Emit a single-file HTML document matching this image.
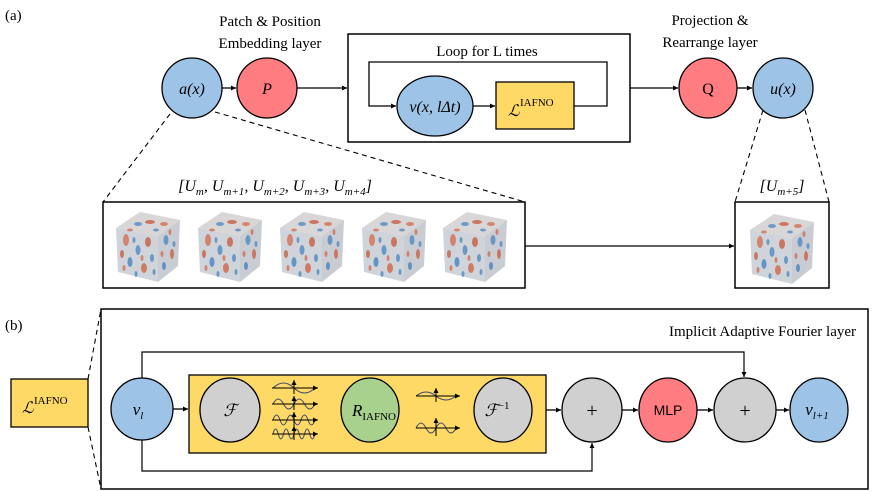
<!DOCTYPE html>
<html><head><meta charset="utf-8"><style>
html,body{margin:0;padding:0;background:#fff;}
svg{display:block;font-family:"Liberation Serif",serif;}
</style></head><body>
<svg width="872" height="491" viewBox="0 0 872 491" xmlns="http://www.w3.org/2000/svg">
<defs>
<marker id="as" markerWidth="6" markerHeight="6" refX="5" refY="3" orient="auto" markerUnits="userSpaceOnUse">
<path d="M0,0.5 L5,3 L0,5.5 Z" fill="#000"/></marker>
<g id="cube">
<polygon points="0,18 24,2 64,10 42,26" fill="#d9d6d8"/>
<polygon points="0,18 42,26 42,72 2,62" fill="#cfd3da"/>
<polygon points="42,26 64,10 62,56 42,72" fill="#c9ccd2"/>
<g opacity="0.75">
<ellipse cx="10" cy="30" rx="3" ry="6" fill="#d46a4a"/>
<ellipse cx="22" cy="40" rx="2.5" ry="5" fill="#4a86c0"/>
<ellipse cx="32" cy="32" rx="3" ry="5" fill="#c9553a"/>
<ellipse cx="14" cy="52" rx="2.5" ry="5" fill="#3f7fbf"/>
<ellipse cx="28" cy="58" rx="3" ry="5" fill="#d0603e"/>
<ellipse cx="36" cy="48" rx="2" ry="4" fill="#4a86c0"/>
<ellipse cx="6" cy="44" rx="2" ry="4" fill="#c65a3e"/>
<ellipse cx="50" cy="30" rx="2.5" ry="5" fill="#4a86c0"/>
<ellipse cx="56" cy="44" rx="2" ry="5" fill="#cc5a3c"/>
<ellipse cx="48" cy="56" rx="2" ry="4" fill="#3f7fbf"/>
<ellipse cx="34" cy="12" rx="5" ry="2" fill="#c9553a"/>
<ellipse cx="22" cy="14" rx="4" ry="2" fill="#4a86c0"/>
<ellipse cx="48" cy="14" rx="4" ry="2" fill="#d46a4a"/>
<ellipse cx="18" cy="30" rx="1.5" ry="3" fill="#4a86c0"/>
<ellipse cx="26" cy="48" rx="1.5" ry="3" fill="#d46a4a"/>
<ellipse cx="8" cy="58" rx="1.5" ry="3" fill="#d46a4a"/>
<ellipse cx="38" cy="62" rx="1.5" ry="3" fill="#4a86c0"/>
<ellipse cx="20" cy="64" rx="1.5" ry="3" fill="#4a86c0"/>
<ellipse cx="54" cy="22" rx="1.5" ry="3" fill="#d46a4a"/>
<ellipse cx="58" cy="34" rx="1.5" ry="3" fill="#4a86c0"/>
<ellipse cx="46" cy="44" rx="1.5" ry="3" fill="#d46a4a"/>
<ellipse cx="40" cy="20" rx="3" ry="1.5" fill="#4a86c0"/>
<ellipse cx="14" cy="20" rx="3" ry="1.5" fill="#d46a4a"/>
</g>
</g>
</defs>

<!-- (a) -->
<text x="5" y="20" font-size="15">(a)</text>
<text x="270" y="26" font-size="15" text-anchor="middle">Patch &amp; Position</text>
<text x="270" y="48" font-size="15" text-anchor="middle">Embedding layer</text>
<text x="710" y="25" font-size="15" text-anchor="middle">Projection &amp;</text>
<text x="710" y="47" font-size="15" text-anchor="middle">Rearrange layer</text>

<rect x="348" y="34" width="282" height="108" fill="none" stroke="#000" stroke-width="1.5"/>
<text x="487" y="56" font-size="15" text-anchor="middle">Loop for L times</text>
<polyline points="574,106 607,106 607,62 369,62 369,106 396,106" fill="none" stroke="#000" stroke-width="1.3" marker-end="url(#as)"/>
<ellipse cx="435" cy="106" rx="38" ry="30" fill="#9DC3E6" stroke="#000" stroke-width="1.3"/>
<text x="435" y="112" font-size="16" font-style="italic" text-anchor="middle">v(x, lΔt)</text>
<line x1="473" y1="106" x2="495" y2="106" stroke="#000" stroke-width="1.3" marker-end="url(#as)"/>
<rect x="496" y="82" width="78" height="47" fill="#FFD966" stroke="#000" stroke-width="1.3"/>
<text x="508" y="116" font-size="16" font-style="italic">ℒ</text><text x="520" y="106" font-size="11">IAFNO</text>

<ellipse cx="192" cy="88" rx="30" ry="30" fill="#9DC3E6" stroke="#000" stroke-width="1.3"/>
<text x="192" y="94" font-size="16" font-style="italic" text-anchor="middle">a(x)</text>
<line x1="222" y1="88" x2="236" y2="88" stroke="#000" stroke-width="1.3" marker-end="url(#as)"/>
<ellipse cx="267" cy="88" rx="30" ry="30" fill="#FF7C80" stroke="#000" stroke-width="1.3"/>
<text x="267" y="94" font-size="16" font-style="italic" text-anchor="middle">P</text>
<line x1="297" y1="88" x2="347" y2="88" stroke="#000" stroke-width="1.3" marker-end="url(#as)"/>
<line x1="630" y1="88" x2="678" y2="88" stroke="#000" stroke-width="1.3" marker-end="url(#as)"/>
<ellipse cx="708" cy="88" rx="29" ry="30" fill="#FF7C80" stroke="#000" stroke-width="1.3"/>
<text x="708" y="94" font-size="16" text-anchor="middle">Q</text>
<line x1="737" y1="88" x2="752" y2="88" stroke="#000" stroke-width="1.3" marker-end="url(#as)"/>
<ellipse cx="783" cy="88" rx="30" ry="30" fill="#9DC3E6" stroke="#000" stroke-width="1.3"/>
<text x="783" y="94" font-size="16" font-style="italic" text-anchor="middle">u(x)</text>

<g stroke="#000" stroke-width="1.1" stroke-dasharray="5,4" fill="none">
<line x1="170" y1="114" x2="103" y2="202"/>
<line x1="215" y1="112" x2="525" y2="202"/>
<line x1="763" y1="110" x2="735" y2="202"/>
<line x1="805" y1="110" x2="829" y2="202"/>
</g>
<text x="275" y="191" font-size="16" text-anchor="middle" font-style="italic">[U<tspan font-size="11" dy="4">m</tspan><tspan dy="-4">, U</tspan><tspan font-size="11" dy="4">m+1</tspan><tspan dy="-4">, U</tspan><tspan font-size="11" dy="4">m+2</tspan><tspan dy="-4">, U</tspan><tspan font-size="11" dy="4">m+3</tspan><tspan dy="-4">, U</tspan><tspan font-size="11" dy="4">m+4</tspan><tspan dy="-4">]</tspan></text>
<text x="782" y="191" font-size="16" text-anchor="middle" font-style="italic">[U<tspan font-size="11" dy="4">m+5</tspan><tspan dy="-4">]</tspan></text>

<rect x="103" y="202" width="422" height="86" fill="#fff" stroke="#000" stroke-width="1.5"/>
<use href="#cube" x="116" y="210"/>
<use href="#cube" x="198" y="210"/>
<use href="#cube" x="280" y="210"/>
<use href="#cube" x="362" y="210"/>
<use href="#cube" x="443" y="210"/>
<rect x="735" y="202" width="94" height="86" fill="#fff" stroke="#000" stroke-width="1.5"/>
<use href="#cube" x="750" y="212"/>
<line x1="525" y1="246" x2="734" y2="246" stroke="#000" stroke-width="1.3" marker-end="url(#as)"/>

<!-- (b) -->
<text x="5" y="330" font-size="15">(b)</text>
<rect x="101" y="309" width="767" height="180" fill="none" stroke="#000" stroke-width="1.5"/>
<text x="856" y="336" font-size="15" text-anchor="end">Implicit Adaptive Fourier layer</text>
<g stroke="#000" stroke-width="1.1" stroke-dasharray="5,4">
<line x1="88" y1="379" x2="101" y2="309"/>
<line x1="88" y1="427" x2="101" y2="489"/>
</g>
<rect x="11" y="379" width="77" height="48" fill="#FFD966" stroke="#000" stroke-width="1.3"/>
<text x="22" y="413" font-size="16" font-style="italic">ℒ</text><text x="34" y="404" font-size="11">IAFNO</text>

<polyline points="142,378 142,352 744,352 744,377" fill="none" stroke="#000" stroke-width="1.2" marker-end="url(#as)"/>
<polyline points="142,440 142,471 592,471 592,443" fill="none" stroke="#000" stroke-width="1.2" marker-end="url(#as)"/>

<rect x="189" y="375" width="357" height="78" fill="#FFD966" stroke="#000" stroke-width="1.3"/>
<ellipse cx="142" cy="409" rx="31" ry="31" fill="#9DC3E6" stroke="#000" stroke-width="1.3"/>
<text x="138" y="415" font-size="17" font-style="italic" text-anchor="middle">v<tspan font-size="11" dy="4">l</tspan></text>
<line x1="173" y1="409" x2="188" y2="409" stroke="#000" stroke-width="1.3" marker-end="url(#as)"/>

<ellipse cx="230" cy="410" rx="30" ry="32" fill="#D0D0D0" stroke="#000" stroke-width="1.3"/>
<text x="230" y="416" font-size="17" font-style="italic" text-anchor="middle">ℱ</text>
<g fill="none" stroke="#3b4a6b" stroke-width="1">
<path d="M273 388 Q283.5 378 294 388 T315 388"/>
<path d="M273 404 Q278.25 394 283.5 404 T294 404 T304.5 404 T315 404"/>
<path d="M273 420 Q276.5 410 280 420 T287 420 T294 420 T301 420 T308 420 T315 420"/>
<path d="M273 434 Q275.6 424 278.25 434 T283.5 434 T288.75 434 T294 434 T299.25 434 T304.5 434 T309.75 434 T315 434"/>
<path d="M416 396 Q426 388 436 396 T456 396"/>
<path d="M416 428 Q421 418 426 428 T436 428 T446 428 T456 428"/>
</g>
<g stroke="#000" stroke-width="1">
<line x1="272" y1="388" x2="318" y2="388" marker-end="url(#as)"/><line x1="294" y1="394" x2="294" y2="380" marker-end="url(#as)"/>
<line x1="272" y1="404" x2="318" y2="404" marker-end="url(#as)"/><line x1="294" y1="410" x2="294" y2="396" marker-end="url(#as)"/>
<line x1="272" y1="420" x2="318" y2="420" marker-end="url(#as)"/><line x1="294" y1="426" x2="294" y2="412" marker-end="url(#as)"/>
<line x1="272" y1="434" x2="318" y2="434" marker-end="url(#as)"/><line x1="294" y1="440" x2="294" y2="426" marker-end="url(#as)"/>
<line x1="416" y1="396" x2="460" y2="396" marker-end="url(#as)"/><line x1="436" y1="402" x2="436" y2="388" marker-end="url(#as)"/>
<line x1="416" y1="428" x2="460" y2="428" marker-end="url(#as)"/><line x1="436" y1="436" x2="436" y2="418" marker-end="url(#as)"/>
</g>

<ellipse cx="370" cy="410" rx="29" ry="32" fill="#A9D18E" stroke="#000" stroke-width="1.3"/>
<text x="352" y="416" font-size="17" font-style="italic">R<tspan font-size="11" font-style="normal" dy="4">IAFNO</tspan></text>
<ellipse cx="503" cy="410" rx="29" ry="32" fill="#D0D0D0" stroke="#000" stroke-width="1.3"/>
<text x="497" y="416" font-size="17" font-style="italic" text-anchor="middle">ℱ<tspan font-size="11" font-style="normal" dy="-7">−1</tspan></text>

<line x1="546" y1="410" x2="561" y2="410" stroke="#000" stroke-width="1.3" marker-end="url(#as)"/>
<ellipse cx="592" cy="410" rx="30" ry="32" fill="#D0D0D0" stroke="#000" stroke-width="1.3"/>
<text x="592" y="417" font-size="20" text-anchor="middle">+</text>
<line x1="622" y1="410" x2="638" y2="410" stroke="#000" stroke-width="1.3" marker-end="url(#as)"/>
<ellipse cx="668" cy="410" rx="29" ry="32" fill="#FF7C80" stroke="#000" stroke-width="1.3"/>
<text x="668" y="415" font-size="14" text-anchor="middle" font-family="Liberation Sans, sans-serif">MLP</text>
<line x1="697" y1="410" x2="713" y2="410" stroke="#000" stroke-width="1.3" marker-end="url(#as)"/>
<ellipse cx="745" cy="410" rx="31" ry="32" fill="#D0D0D0" stroke="#000" stroke-width="1.3"/>
<text x="745" y="417" font-size="20" text-anchor="middle">+</text>
<line x1="776" y1="410" x2="789" y2="410" stroke="#000" stroke-width="1.3" marker-end="url(#as)"/>
<ellipse cx="819" cy="410" rx="29" ry="32" fill="#9DC3E6" stroke="#000" stroke-width="1.3"/>
<text x="817" y="415" font-size="17" font-style="italic" text-anchor="middle">v<tspan font-size="11" dy="4">l+1</tspan></text>
</svg>
</body></html>
